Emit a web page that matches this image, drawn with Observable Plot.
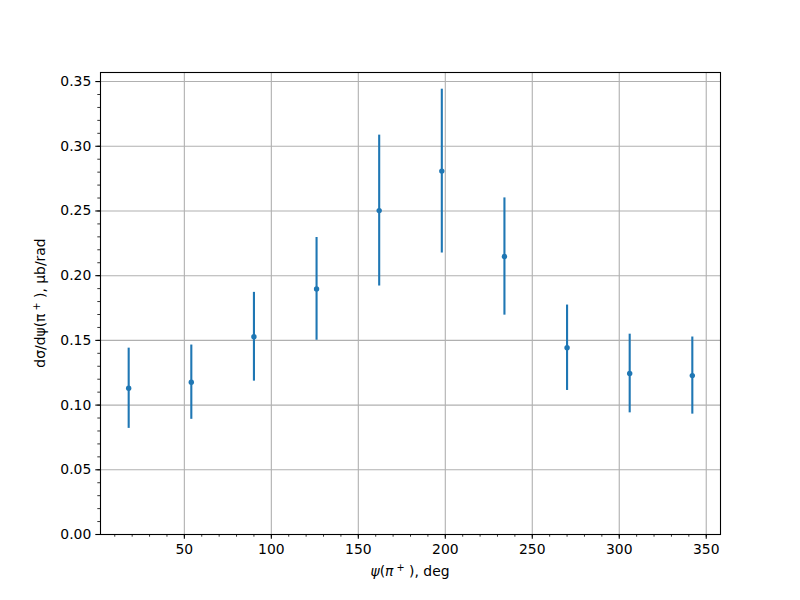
<!DOCTYPE html>
<html>
<head>
<meta charset="utf-8">
<script src="https://cdn.jsdelivr.net/npm/d3@7"></script>
<script src="https://cdn.jsdelivr.net/npm/@observablehq/plot@0.6"></script>
<style>
  html, body { margin: 0; padding: 0; background: white; }
</style>
</head>
<body>
<div id="chart"></div>
<script>
const psi = [18, 54, 90, 126, 162, 198, 234, 270, 306, 342];
const xsec = [0.1130, 0.1177, 0.1528, 0.1898, 0.2503, 0.2808, 0.2148, 0.1443, 0.1244, 0.1228];
const err = [0.0310, 0.0287, 0.0343, 0.0397, 0.0583, 0.0633, 0.0453, 0.0330, 0.0304, 0.0298];

const xTicks = [50, 100, 150, 200, 250, 300, 350];
const yTicks = [0, 0.05, 0.10, 0.15, 0.20, 0.25, 0.30, 0.35];
const xMinor = d3.range(10, 360, 10);
const yMinor = d3.range(0, 36).map(i => i / 100);

const data = psi.map((x, i) => ({x, y: xsec[i], lo: xsec[i] - err[i], hi: xsec[i] + err[i]}));

const blue = "#1f77b4";
const gridStyle = {stroke: "#b0b0b0", strokeOpacity: 1, strokeWidth: 1.1};

const svg = Plot.plot({
  width: 800,
  height: 600,
  marginLeft: 100,
  marginRight: 80,
  marginTop: 72,
  marginBottom: 66,
  x: {domain: [1.8, 358.2]},
  y: {domain: [0, 0.357]},
  style: {fontFamily: "DejaVu Sans", fontSize: "13.9px", color: "black", background: "white"},
  marks: [
    Plot.gridX(xTicks, gridStyle),
    Plot.gridY(yTicks, gridStyle),
    Plot.ruleX(data, {x: "x", y1: "lo", y2: "hi", stroke: blue, strokeWidth: 2.1}),
    Plot.dot(data, {x: "x", y: "y", r: 2.7, fill: blue, stroke: null}),
    Plot.frame({stroke: "black", strokeWidth: 1.1}),
    Plot.axisX(xMinor, {tickSize: 2.7, tickFormat: () => "", label: null, strokeWidth: 0.8}),
    Plot.axisY(yMinor, {tickSize: 2.7, tickFormat: () => "", label: null, strokeWidth: 0.8}),
    Plot.axisX(xTicks, {tickSize: 4.7, tickPadding: 4.5, tickFormat: d => String(d), label: null, strokeWidth: 1.1, fontSize: 13.9}),
    Plot.axisY(yTicks, {tickSize: 4.7, tickPadding: 4.5, tickFormat: d3.format(".2f"), label: null, strokeWidth: 1.1, fontSize: 13.9})
  ]
});

const s = d3.select(svg);
// x label
const xl = s.append("text")
  .attr("x", 410).attr("y", 576)
  .attr("text-anchor", "middle")
  .attr("font-family", "DejaVu Sans")
  .attr("font-size", "13.9px")
  .attr("fill", "black");
xl.append("tspan").attr("font-style", "italic").text("ψ");
xl.append("tspan").text("(");
xl.append("tspan").attr("font-style", "italic").text("π");
xl.append("tspan").attr("font-size", "9.7px").attr("dy", -5).text(" +");
xl.append("tspan").attr("dy", 5).text(" ), deg");

// y label
const yl = s.append("text")
  .attr("transform", "translate(45,303) rotate(-90)")
  .attr("text-anchor", "middle")
  .attr("font-family", "DejaVu Sans")
  .attr("font-size", "13.9px")
  .attr("fill", "black");
yl.append("tspan").text("dσ/dψ(π");
yl.append("tspan").attr("font-size", "9.7px").attr("dy", -5).text(" +");
yl.append("tspan").attr("dy", 5).text(" ), μb/rad");

document.getElementById("chart").appendChild(svg);
</script>
</body>
</html>
